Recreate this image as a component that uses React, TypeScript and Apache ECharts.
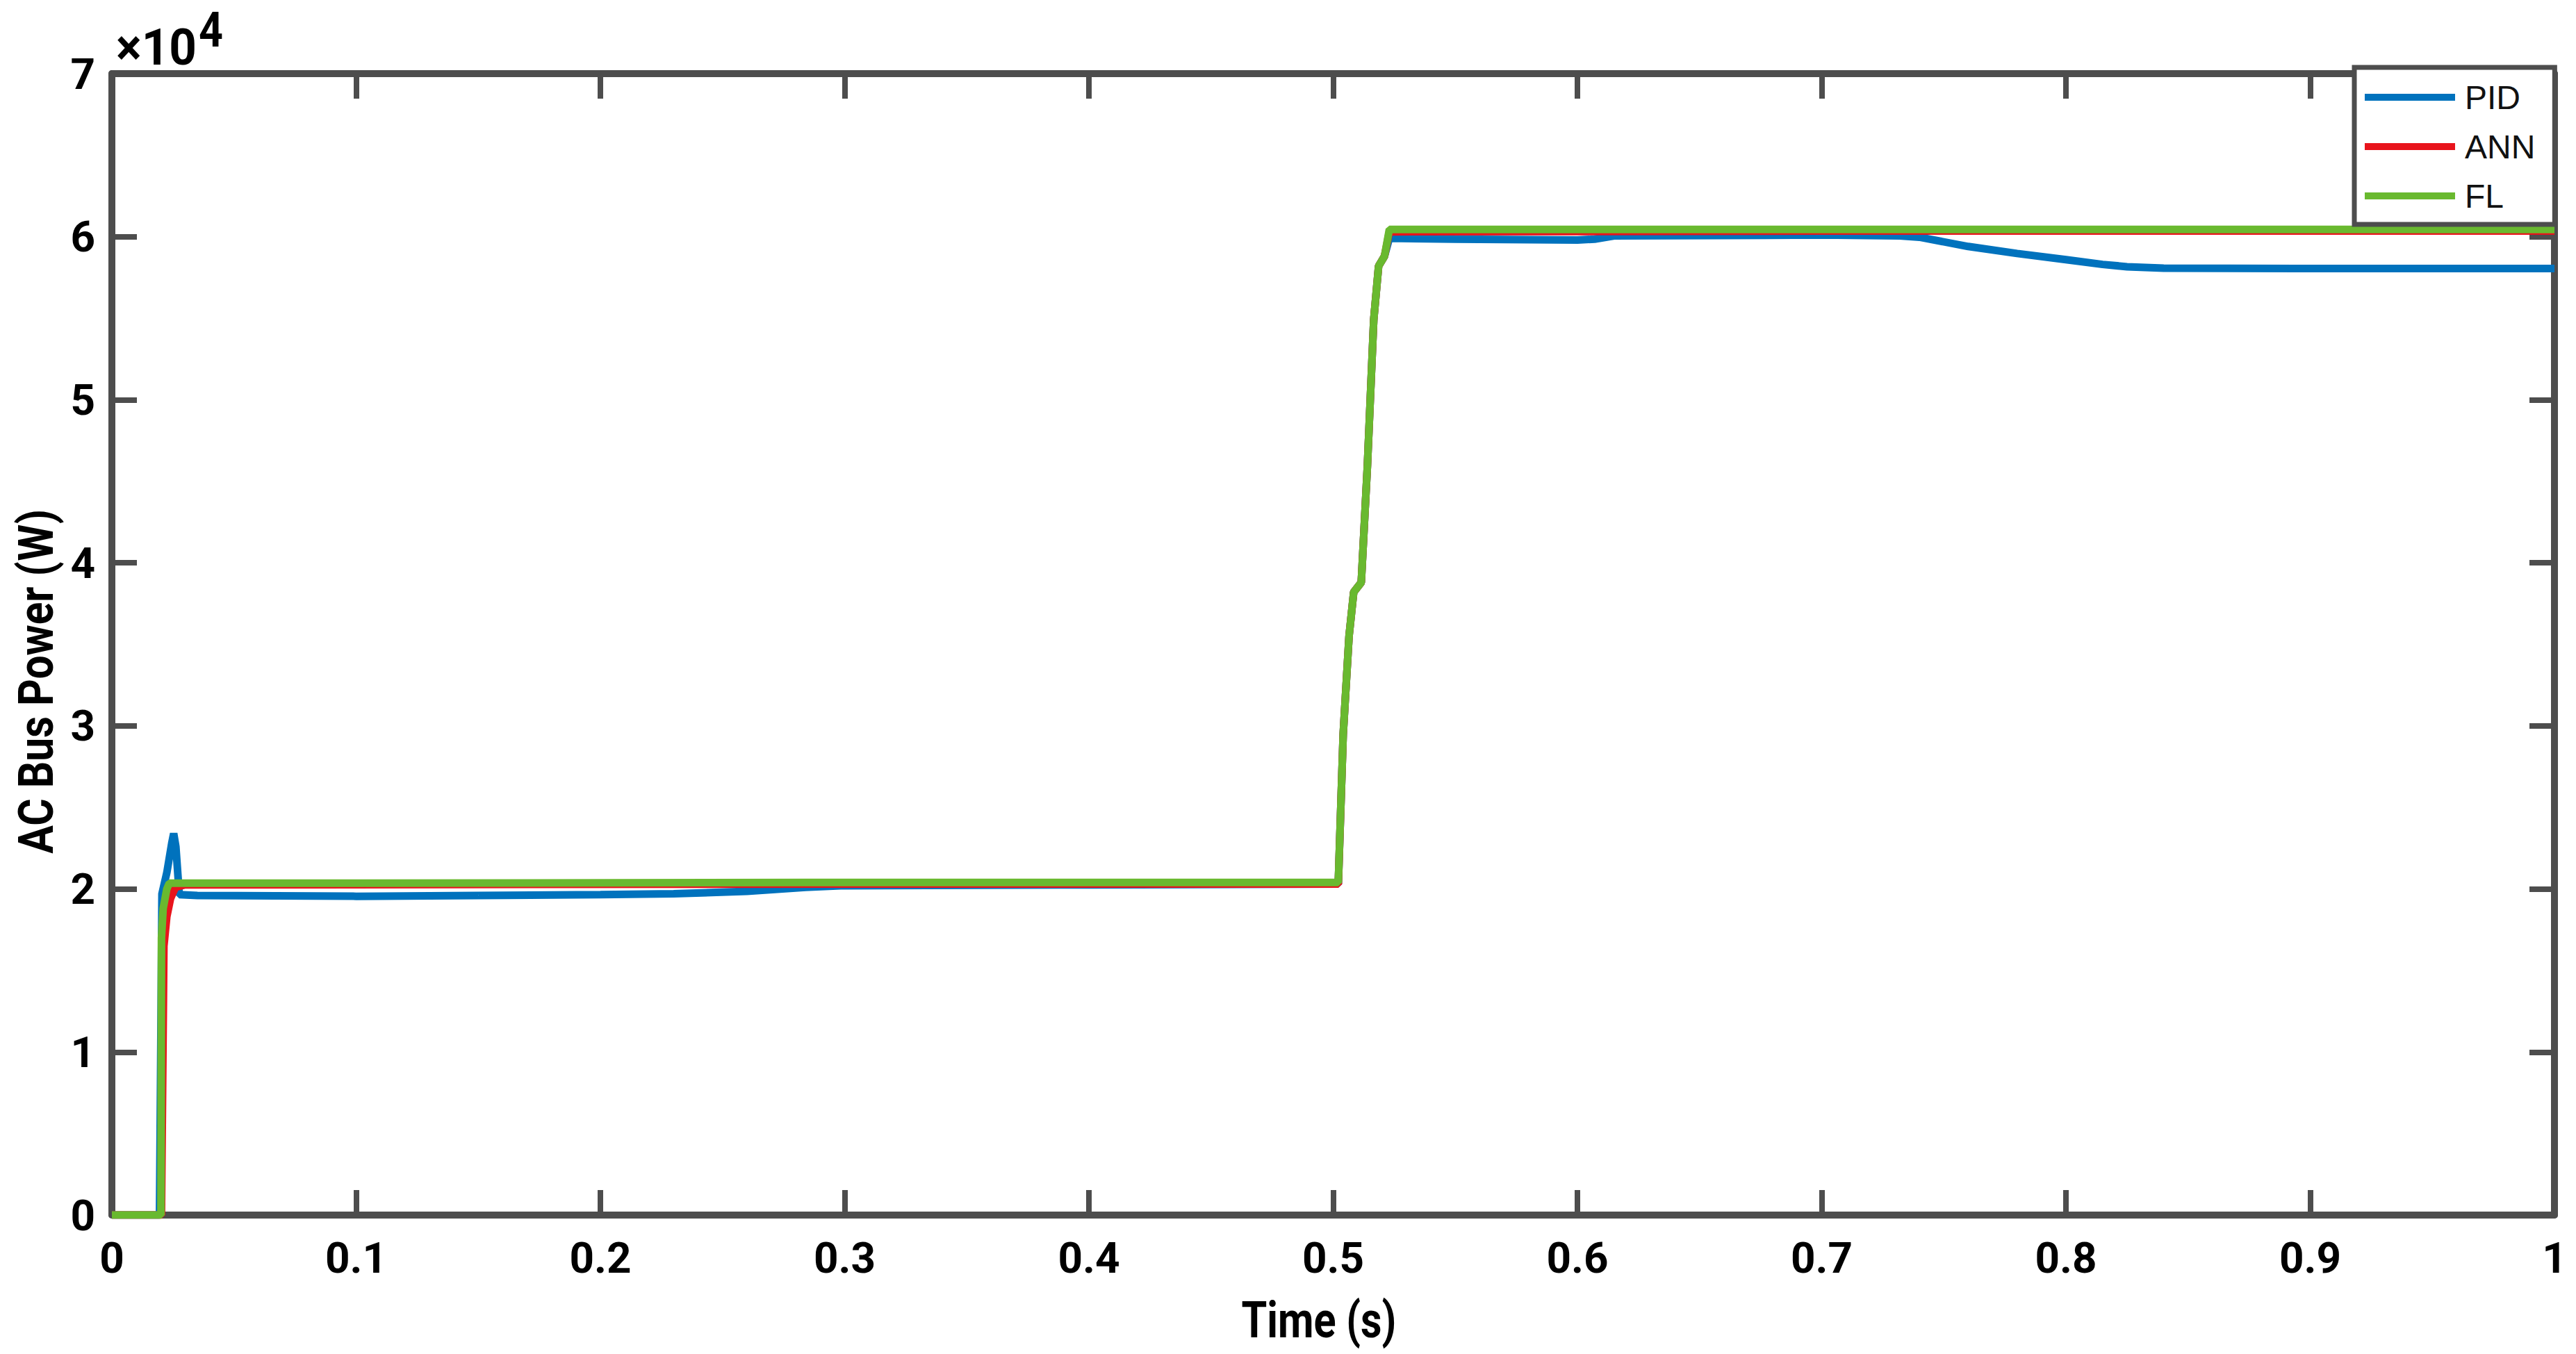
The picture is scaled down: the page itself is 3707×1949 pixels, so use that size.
import React, { useEffect, useRef } from "react";
import * as echarts from "echarts";

// ---- data (time in s, power in W) ----
const pidTime = [0, 0.0195, 0.0205, 0.0225, 0.0245, 0.0253, 0.0262, 0.0276, 0.035, 0.1, 0.15, 0.2, 0.23, 0.26, 0.284, 0.3, 0.4, 0.5021, 0.5041, 0.5065, 0.5084, 0.5115, 0.514, 0.5166, 0.5186, 0.521, 0.523, 0.55, 0.6, 0.607, 0.615, 0.7, 0.732, 0.74, 0.76, 0.78, 0.8, 0.815, 0.825, 0.84, 0.9, 1.0];
const pidPower = [0, 0, 19700, 21000, 22800, 23400, 22600, 19650, 19600, 19550, 19600, 19650, 19700, 19850, 20100, 20200, 20250, 20300, 29480, 35500, 38200, 38800, 45900, 54900, 58200, 58800, 59900, 59850, 59800, 59850, 60050, 60100, 60050, 59970, 59400, 58970, 58590, 58300, 58160, 58070, 58050, 58050];

const annTime = [0, 0.0203, 0.0213, 0.0225, 0.024, 0.026, 0.03, 0.3, 0.5021, 0.5041, 0.5065, 0.5084, 0.5115, 0.514, 0.5166, 0.5186, 0.521, 0.523, 0.7, 1.0];
const annPower = [0, 0, 16500, 18300, 19400, 20100, 20250, 20300, 20300, 29480, 35500, 38200, 38800, 45900, 54900, 58200, 58800, 60300, 60350, 60350];

const flTime = [0, 0.0201, 0.0203, 0.021, 0.0225, 0.0235, 0.1, 0.284, 0.5021, 0.5041, 0.5065, 0.5084, 0.5115, 0.514, 0.5166, 0.5186, 0.521, 0.523, 0.6, 0.8, 1.0];
const flPower = [0, 0, 17000, 18800, 20000, 20350, 20350, 20400, 20400, 29480, 35500, 38200, 38800, 45900, 54900, 58200, 58800, 60450, 60450, 60450, 60450];

const seriesNames = ["PID", "ANN", "FL"];
const xTickStep = 0.1;
const yTickStep = 10000;
const yMax = 70000;
const xLabel = "Time (s)";
const yLabel = "AC Bus Power (W)";
const yMultiplier = "×10";
const yExponent = "4";

const zip = (t: number[], v: number[]) => t.map((x, i) => [x, v[i]]);

const AXIS = "#4d4d4d";
const FONT = "Roboto, 'Noto Sans', sans-serif";

function measure(text: string, size: number, weight = "bold") {
  const ctx = document.createElement("canvas").getContext("2d");
  if (!ctx) return text.length * size * 0.55;
  ctx.font = `${weight} ${size}px Roboto`;
  return ctx.measureText(text).width;
}

// condensed text: scale horizontally so that it spans the given width
function condensed(text: string, size: number, width: number, x: number, y: number, align: "left" | "center", rotation = 0, lineHeight?: number) {
  const sx = width / measure(text, size);
  return {
    type: "text",
    x, y, rotation, scaleX: sx, scaleY: 1, z: 20,
    style: { text, fontFamily: FONT, fontWeight: "bold", fontSize: size, lineHeight: lineHeight ?? size, fill: "#000", align, verticalAlign: "middle" },
  };
}

export default function App() {
  const ref = useRef<HTMLDivElement>(null);
  useEffect(() => {
    if (!ref.current) return;
    const chart = echarts.init(ref.current, undefined, { renderer: "svg" });
    const axisLine = { show: true, onZero: false, lineStyle: { color: AXIS, width: 10 } };
    const axisTick = { show: true, inside: true, length: 36, lineStyle: { color: AXIS, width: 8 } };
    const labelStyle = { color: "#000", fontFamily: FONT, fontWeight: "bold" as const, fontSize: 62 };
    chart.setOption({
      animation: false,
      backgroundColor: "#fff",
      grid: { left: 161, right: 31, top: 106, bottom: 200, containLabel: false },
      xAxis: [
        {
          type: "value", min: 0, max: 1, interval: xTickStep, position: "bottom",
          axisLine, axisTick, splitLine: { show: false },
          axisLabel: { ...labelStyle, margin: 30, formatter: (v: number) => String(Math.round(v * 10) / 10) },
        },
        {
          type: "value", min: 0, max: 1, interval: xTickStep, position: "top",
          axisLine, axisTick, splitLine: { show: false }, axisLabel: { show: false },
        },
      ],
      yAxis: [
        {
          type: "value", min: 0, max: yMax, interval: yTickStep, position: "left",
          axisLine, axisTick, splitLine: { show: false },
          axisLabel: { ...labelStyle, margin: 24, formatter: (v: number) => String(Math.round(v / 10000)) },
        },
        {
          type: "value", min: 0, max: yMax, interval: yTickStep, position: "right",
          axisLine, axisTick, splitLine: { show: false }, axisLabel: { show: false },
        },
      ],
      legend: {
        orient: "vertical",
        left: 3388,
        top: 97,
        data: seriesNames,
        icon: "rect",
        itemWidth: 130,
        itemHeight: 10,
        itemGap: 23,
        padding: [19, 28, 17, 15],
        borderColor: AXIS,
        borderWidth: 7,
        backgroundColor: "#fff",
        textStyle: { color: "#111", fontFamily: "'Liberation Sans', Arial, sans-serif", fontSize: 48, lineHeight: 48, padding: [0, 0, 0, 9] },
        z: 10,
      },
      graphic: [
        condensed(yMultiplier, 72, 116, 167, 69, "left"),
        condensed(yExponent, 70, 35, 286, 43, "left", 0, 54),
        condensed(xLabel, 72, 223, 1898, 1900, "center"),
        condensed(yLabel, 70, 496, 52, 981, "center", Math.PI / 2),
      ],
      series: [
        { name: "PID", type: "line", data: zip(pidTime, pidPower), showSymbol: false, color: "#0072BD", lineStyle: { width: 11, color: "#0072BD" }, z: 3 },
        { name: "ANN", type: "line", data: zip(annTime, annPower), showSymbol: false, color: "#E8141C", lineStyle: { width: 11, color: "#E8141C" }, z: 4 },
        { name: "FL", type: "line", data: zip(flTime, flPower), showSymbol: false, color: "#69B92F", lineStyle: { width: 11, color: "#69B92F" }, z: 5 },
      ],
    });
    return () => chart.dispose();
  }, []);
  return <div ref={ref} style={{ position: "fixed", left: 0, top: 0, width: 3707, height: 1949, background: "#fff" }} />;
}
